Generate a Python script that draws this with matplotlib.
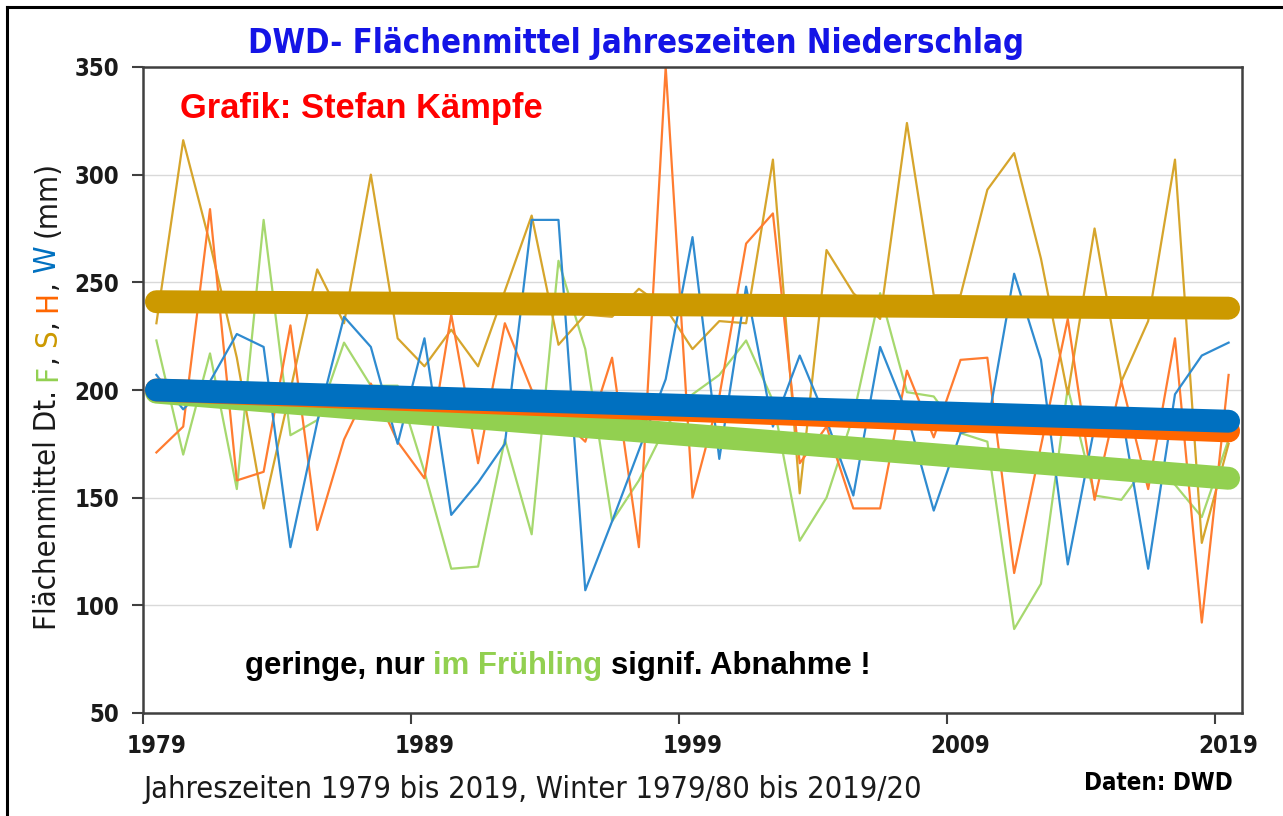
import numpy as np
import matplotlib
matplotlib.use("Agg")
import matplotlib.pyplot as plt
from matplotlib.lines import Line2D
from matplotlib import font_manager as fm

# ---------------- data ----------------
years = list(range(1979, 2020))
fruehling = [223, 170, 217, 154, 279, 179, 186, 222, 202, 202,
             162, 117, 118, 177, 133, 260, 219, 139, 158, 183,
             198, 207, 223, 195, 130, 150, 188, 245, 199, 197,
             180, 176, 89, 110, 201, 151, 149, 166, 156, 141, 177]
sommer = [231, 316, 268, 215, 145, 200, 256, 231, 300, 224,
          211, 228, 211, 246, 281, 221, 235, 234, 247, 238,
          219, 232, 231, 307, 152, 265, 245, 233, 324, 244,
          244, 293, 310, 261, 198, 275, 204, 232, 307, 129, 175]
herbst = [171, 183, 284, 158, 162, 230, 135, 177, 203, 176,
          159, 235, 166, 231, 200, 188, 176, 215, 127, 350,
          150, 197, 268, 282, 166, 183, 145, 145, 209, 178,
          214, 215, 115, 174, 233, 149, 204, 154, 224, 92, 207]
winter = [207, 191, 204, 226, 220, 127, 185, 234, 220, 175,
          224, 142, 157, 175, 279, 279, 107, 139, 172, 205,
          271, 168, 248, 183, 216, 186, 151, 220, 189, 144,
          180, 183, 254, 214, 119, 183, 190, 117, 198, 216, 222]
# linear trend, start / end values
trend_F = [199, 159]
trend_S = [241, 238]
trend_H = [200, 181]
trend_W = [200, 185.5]
xtick_labels = ["1979", "1989", "1999", "2009", "2019"]
yticks = [50, 100, 150, 200, 250, 300, 350]

# ---------------- style ----------------
C_F, C_Ft = "#92D050", "#A6D86E"
C_S, C_St = "#CC9900", "#D6A52C"
C_H, C_Ht = "#FF6600", "#FF7C30"
C_W, C_Wt = "#0070C0", "#2F8BD0"

fl = fm.fontManager.ttflist
names = {f.name for f in fl}
SANS = {"family": "Liberation Sans" if "Liberation Sans" in names else "DejaVu Sans"}
if "Liberation Sans Narrow" in names:
    NARROW = {"family": "Liberation Sans Narrow"}
elif any(f.name == "DejaVu Sans" and f.stretch in ("condensed", "semi-condensed") for f in fl):
    NARROW = {"family": "DejaVu Sans", "stretch": "condensed"}
else:
    NARROW = dict(SANS)

W, H = 1283, 816
fig = plt.figure(figsize=(W / 100, H / 100), dpi=100)
fig.patch.set_facecolor("white")


def fx(px):
    return px / W


def fy(py):
    return 1 - py / H


ax = fig.add_axes([fx(143), fy(713), fx(1242) - fx(143), fy(67) - fy(713)])
xs = np.array(years) + 0.5

for vals, c in [(fruehling, C_Ft), (sommer, C_St), (herbst, C_Ht), (winter, C_Wt)]:
    ax.plot(xs, vals, color=c, lw=1.6, zorder=2)

xe = [xs[0], xs[-1]]
for tr, c in [(trend_F, C_F), (trend_H, C_H), (trend_W, C_W), (trend_S, C_S)]:
    ax.plot(xe, tr, color=c, lw=16.5, solid_capstyle="round", zorder=3)

ax.set_xlim(1979, 2020)
ax.set_ylim(50, 350)
ax.set_yticks(yticks)
ax.yaxis.grid(True, color="#D9D9D9", lw=1.0, zorder=0)
ax.set_axisbelow(True)

tick_years = [int(t) for t in xtick_labels]
ax.set_xticks(tick_years)
ax.set_xticklabels([])
ax.set_xticks([t + 0.5 for t in tick_years], minor=True)
ax.set_xticklabels(xtick_labels, minor=True)

renderer = fig.canvas.get_renderer()


def width(s, size, weight, font):
    t = fig.text(0, 0, s, fontsize=size, weight=weight, **font)
    w = t.get_window_extent(renderer).width
    t.remove()
    return w


def adv(s, size, weight, font):
    return width("|" + s + "|", size, weight, font) - width("||", size, weight, font)


tick_size = 20 * 45 / width("350", 20, "bold", NARROW)

ax.tick_params(axis="x", which="major", length=8, width=1.5, color="#404040", direction="out")
ax.tick_params(axis="x", which="minor", length=0, pad=15)
ax.tick_params(axis="y", length=8, width=1.5, color="#404040", direction="out", pad=9)
for lab in ax.get_xticklabels(minor=True) + ax.get_yticklabels():
    lab.set_fontproperties(fm.FontProperties(weight="bold", size=tick_size, **NARROW))
    lab.set_color("#1a1a1a")
for sp in ax.spines.values():
    sp.set_color("#404040")
    sp.set_linewidth(1.8)


# ---------------- texts ----------------
def multitext(parts, start, end, base, weight, font, rotation=0):
    full = "".join(p for p, _ in parts)
    size = 20 * abs(end - start) / adv(full, 20, weight, font)
    pos = 0
    for s, c in parts:
        if rotation == 0:
            fig.text(fx(start + pos), fy(base), s, fontsize=size, weight=weight,
                     color=c, ha="left", va="baseline", **font)
        else:
            fig.text(fx(base), fy(start - pos), s, fontsize=size, weight=weight,
                     color=c, ha="left", va="baseline",
                     rotation=90, rotation_mode="anchor", **font)
        pos += adv(s, size, weight, font)


multitext([("DWD- Flächenmittel Jahreszeiten Niederschlag", "#1414E6")], 248, 1027, 53, "bold", NARROW)
multitext([("Grafik: Stefan Kämpfe", "#FF0000")], 180, 543, 118, "bold", SANS)
multitext([("geringe, nur ", "black"), ("im Frühling ", C_F), ("signif. Abnahme !", "black")],
          245, 870, 674, "bold", SANS)
multitext([("Jahreszeiten 1979 bis 2019, Winter 1979/80 bis 2019/20", "#1a1a1a")],
          143, 920, 798, "normal", NARROW)
multitext([("Daten: DWD", "black")], 1084, 1232, 790, "bold", NARROW)
multitext([("Flächenmittel Dt. ", "#1a1a1a"), ("F", C_F), (", ", "#1a1a1a"), ("S", C_S),
           (", ", "#1a1a1a"), ("H", C_H), (", ", "#1a1a1a"), ("W ", C_W), ("(mm)", "#1a1a1a")],
          630, 160, 56, "normal", NARROW, rotation=90)

# outer frame (top and left edges visible)
fig.add_artist(Line2D([fx(7), 1], [fy(7), fy(7)], color="black", lw=2.2, transform=fig.transFigure))
fig.add_artist(Line2D([fx(7), fx(7)], [fy(7), 0], color="black", lw=2.2, transform=fig.transFigure))

fig.savefig("out.png", dpi=100, facecolor="white")
